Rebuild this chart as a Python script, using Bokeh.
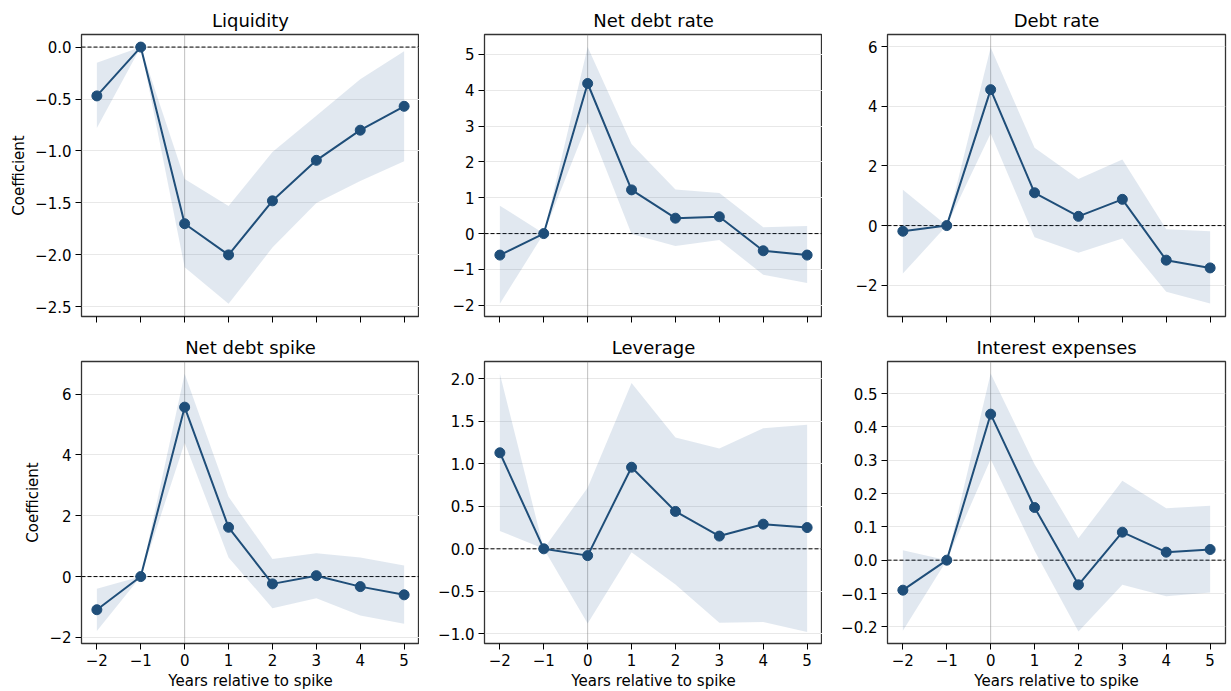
from bokeh.plotting import figure
from bokeh.layouts import column, row
from bokeh.models import Span, FixedTicker, CustomJSTickFormatter, Range1d, CustomLabelingPolicy
from bokeh.embed import file_html
from bokeh.resources import INLINE

years = [-2, -1, 0, 1, 2, 3, 4, 5]
year_labels = ["−2", "−1", "0", "1", "2", "3", "4", "5"]

titles = ["Liquidity", "Net debt rate", "Debt rate", "Net debt spike", "Leverage", "Interest expenses"]

liq_coef = [-0.47, 0.0, -1.70, -2.00, -1.48, -1.09, -0.80, -0.57]
liq_lo = [-0.78, 0.0, -2.12, -2.47, -1.93, -1.50, -1.29, -1.10]
liq_hi = [-0.15, 0.0, -1.27, -1.53, -1.01, -0.66, -0.31, -0.04]

ndr_coef = [-0.60, 0.0, 4.19, 1.22, 0.43, 0.47, -0.48, -0.60]
ndr_lo = [-1.96, 0.0, 3.10, -0.01, -0.35, -0.18, -1.15, -1.38]
ndr_hi = [0.78, 0.0, 5.21, 2.50, 1.23, 1.13, 0.18, 0.21]

dr_coef = [-0.19, 0.0, 4.56, 1.10, 0.31, 0.88, -1.16, -1.42]
dr_lo = [-1.61, 0.0, 3.09, -0.39, -0.91, -0.43, -2.22, -2.61]
dr_hi = [1.20, 0.0, 5.97, 2.61, 1.56, 2.22, -0.12, -0.19]

nds_coef = [-1.09, 0.0, 5.57, 1.62, -0.24, 0.03, -0.33, -0.60]
nds_lo = [-1.79, 0.0, 4.40, 0.63, -1.04, -0.71, -1.28, -1.55]
nds_hi = [-0.40, 0.0, 6.67, 2.62, 0.58, 0.77, 0.63, 0.36]

lev_coef = [1.13, 0.0, -0.08, 0.96, 0.44, 0.15, 0.29, 0.25]
lev_lo = [0.21, 0.0, -0.88, -0.04, -0.42, -0.87, -0.86, -0.98]
lev_hi = [2.06, 0.0, 0.72, 1.95, 1.31, 1.18, 1.42, 1.46]

int_coef = [-0.090, 0.0, 0.438, 0.158, -0.074, 0.084, 0.024, 0.032]
int_lo = [-0.212, 0.0, 0.303, 0.028, -0.214, -0.074, -0.108, -0.097]
int_hi = [0.030, 0.0, 0.560, 0.288, 0.066, 0.238, 0.156, 0.163]

liq_ticks = [0.0, -0.5, -1.0, -1.5, -2.0, -2.5]
liq_tick_labels = ["0.0", "−0.5", "−1.0", "−1.5", "−2.0", "−2.5"]
ndr_ticks = [-2, -1, 0, 1, 2, 3, 4, 5]
ndr_tick_labels = ["−2", "−1", "0", "1", "2", "3", "4", "5"]
dr_ticks = [-2, 0, 2, 4, 6]
dr_tick_labels = ["−2", "0", "2", "4", "6"]
nds_ticks = [-2, 0, 2, 4, 6]
nds_tick_labels = ["−2", "0", "2", "4", "6"]
lev_ticks = [-1.0, -0.5, 0.0, 0.5, 1.0, 1.5, 2.0]
lev_tick_labels = ["−1.0", "−0.5", "0.0", "0.5", "1.0", "1.5", "2.0"]
int_ticks = [-0.2, -0.1, 0.0, 0.1, 0.2, 0.3, 0.4, 0.5]
int_tick_labels = ["−0.2", "−0.1", "0.0", "0.1", "0.2", "0.3", "0.4", "0.5"]

y_ranges = [(-2.593, 0.121), (-2.315, 5.558), (-3.05, 6.41),
            (-2.2, 7.07), (-1.114, 2.204), (-0.25, 0.596)]

panels = [
    (liq_coef, liq_lo, liq_hi, liq_ticks, liq_tick_labels),
    (ndr_coef, ndr_lo, ndr_hi, ndr_ticks, ndr_tick_labels),
    (dr_coef, dr_lo, dr_hi, dr_ticks, dr_tick_labels),
    (nds_coef, nds_lo, nds_hi, nds_ticks, nds_tick_labels),
    (lev_coef, lev_lo, lev_hi, lev_ticks, lev_tick_labels),
    (int_coef, int_lo, int_hi, int_ticks, int_tick_labels),
]

BLUE = "#1f4e79"
BAND = "#2c5f92"
FONT = "DejaVu Sans"


def fmt(vals, labs):
    return CustomJSTickFormatter(args=dict(vals=vals, labs=labs), code="""
        const i = vals.findIndex(v => Math.abs(v - tick) < 1e-9);
        return i >= 0 ? labs[i] : "";
    """)


def make(i):
    coef, lo, hi, yt, ytl = panels[i]
    top = i < 3
    colpos = i % 3
    p = figure(frame_width=338, frame_height=282, output_backend="svg", toolbar_location=None,
               x_range=Range1d(-2.35, 5.35), y_range=Range1d(*y_ranges[i]),
               min_border_left=81 if colpos == 0 else 65,
               min_border_right=5 if colpos == 2 else 0,
               min_border_top=34,
               min_border_bottom=11 if top else 48)
    p.title.text = titles[i]
    p.title.align = "center"
    p.title.text_font = FONT
    p.title.text_font_size = "18px"
    p.title.text_font_style = "normal"
    p.title.text_color = "#000000"
    p.title.standoff = 7
    p.outline_line_color = "#000000"
    p.outline_line_width = 1.3
    p.outline_line_alpha = 0.8
    p.background_fill_color = "white"
    p.border_fill_color = "white"

    p.xgrid.visible = False
    p.ygrid.ticker = FixedTicker(ticks=yt)
    p.ygrid.grid_line_color = "#e8e8e8"
    p.ygrid.grid_line_width = 1

    for ax in (p.xaxis[0], p.yaxis[0]):
        ax.axis_line_color = None
        ax.major_tick_in = 0
        ax.major_tick_out = 6
        ax.major_tick_line_color = "#000000"
        ax.major_tick_line_width = 1
        ax.minor_tick_line_color = None
        ax.major_label_text_font = FONT
        ax.major_label_text_font_size = "15px"
        ax.major_label_text_color = "#000000"
        ax.major_label_standoff = 4
        ax.axis_label_text_font = FONT
        ax.axis_label_text_font_size = "15px"
        ax.axis_label_text_font_style = "normal"
        ax.axis_label_text_color = "#000000"
        ax.axis_label_standoff = 4

    p.xaxis.ticker = FixedTicker(ticks=years)
    p.xaxis.formatter = fmt(years, year_labels)
    p.yaxis.ticker = FixedTicker(ticks=yt)
    p.yaxis.formatter = fmt(yt, ytl)

    if top:
        p.xaxis.major_label_policy = CustomLabelingPolicy(code="""
            for (const i of indices) indices.unset(i)
            return indices
        """)
        p.xaxis.major_label_text_font_size = "1px"
        p.xaxis.major_label_standoff = 0
    else:
        p.xaxis.axis_label = "Years relative to spike"
        p.xaxis.axis_label_standoff = 3
    if colpos == 0:
        p.yaxis.axis_label = "Coefficient"

    p.varea(x=years, y1=lo, y2=hi, fill_color=BAND, fill_alpha=0.14)
    p.add_layout(Span(location=0, dimension="height", line_color="#808080",
                      line_width=1, line_alpha=0.5, level="underlay"))
    p.add_layout(Span(location=0, dimension="width", line_color="#000000",
                      line_width=1, line_dash="4 2", level="underlay"))
    p.line(years, coef, line_color=BLUE, line_width=2)
    p.scatter(years, coef, size=10, fill_color=BLUE, line_color=BLUE)
    return p


figs = [make(i) for i in range(6)]
layout = column(row(*figs[:3]), row(*figs[3:]))
open("out.html", "w").write(file_html(layout, INLINE))
